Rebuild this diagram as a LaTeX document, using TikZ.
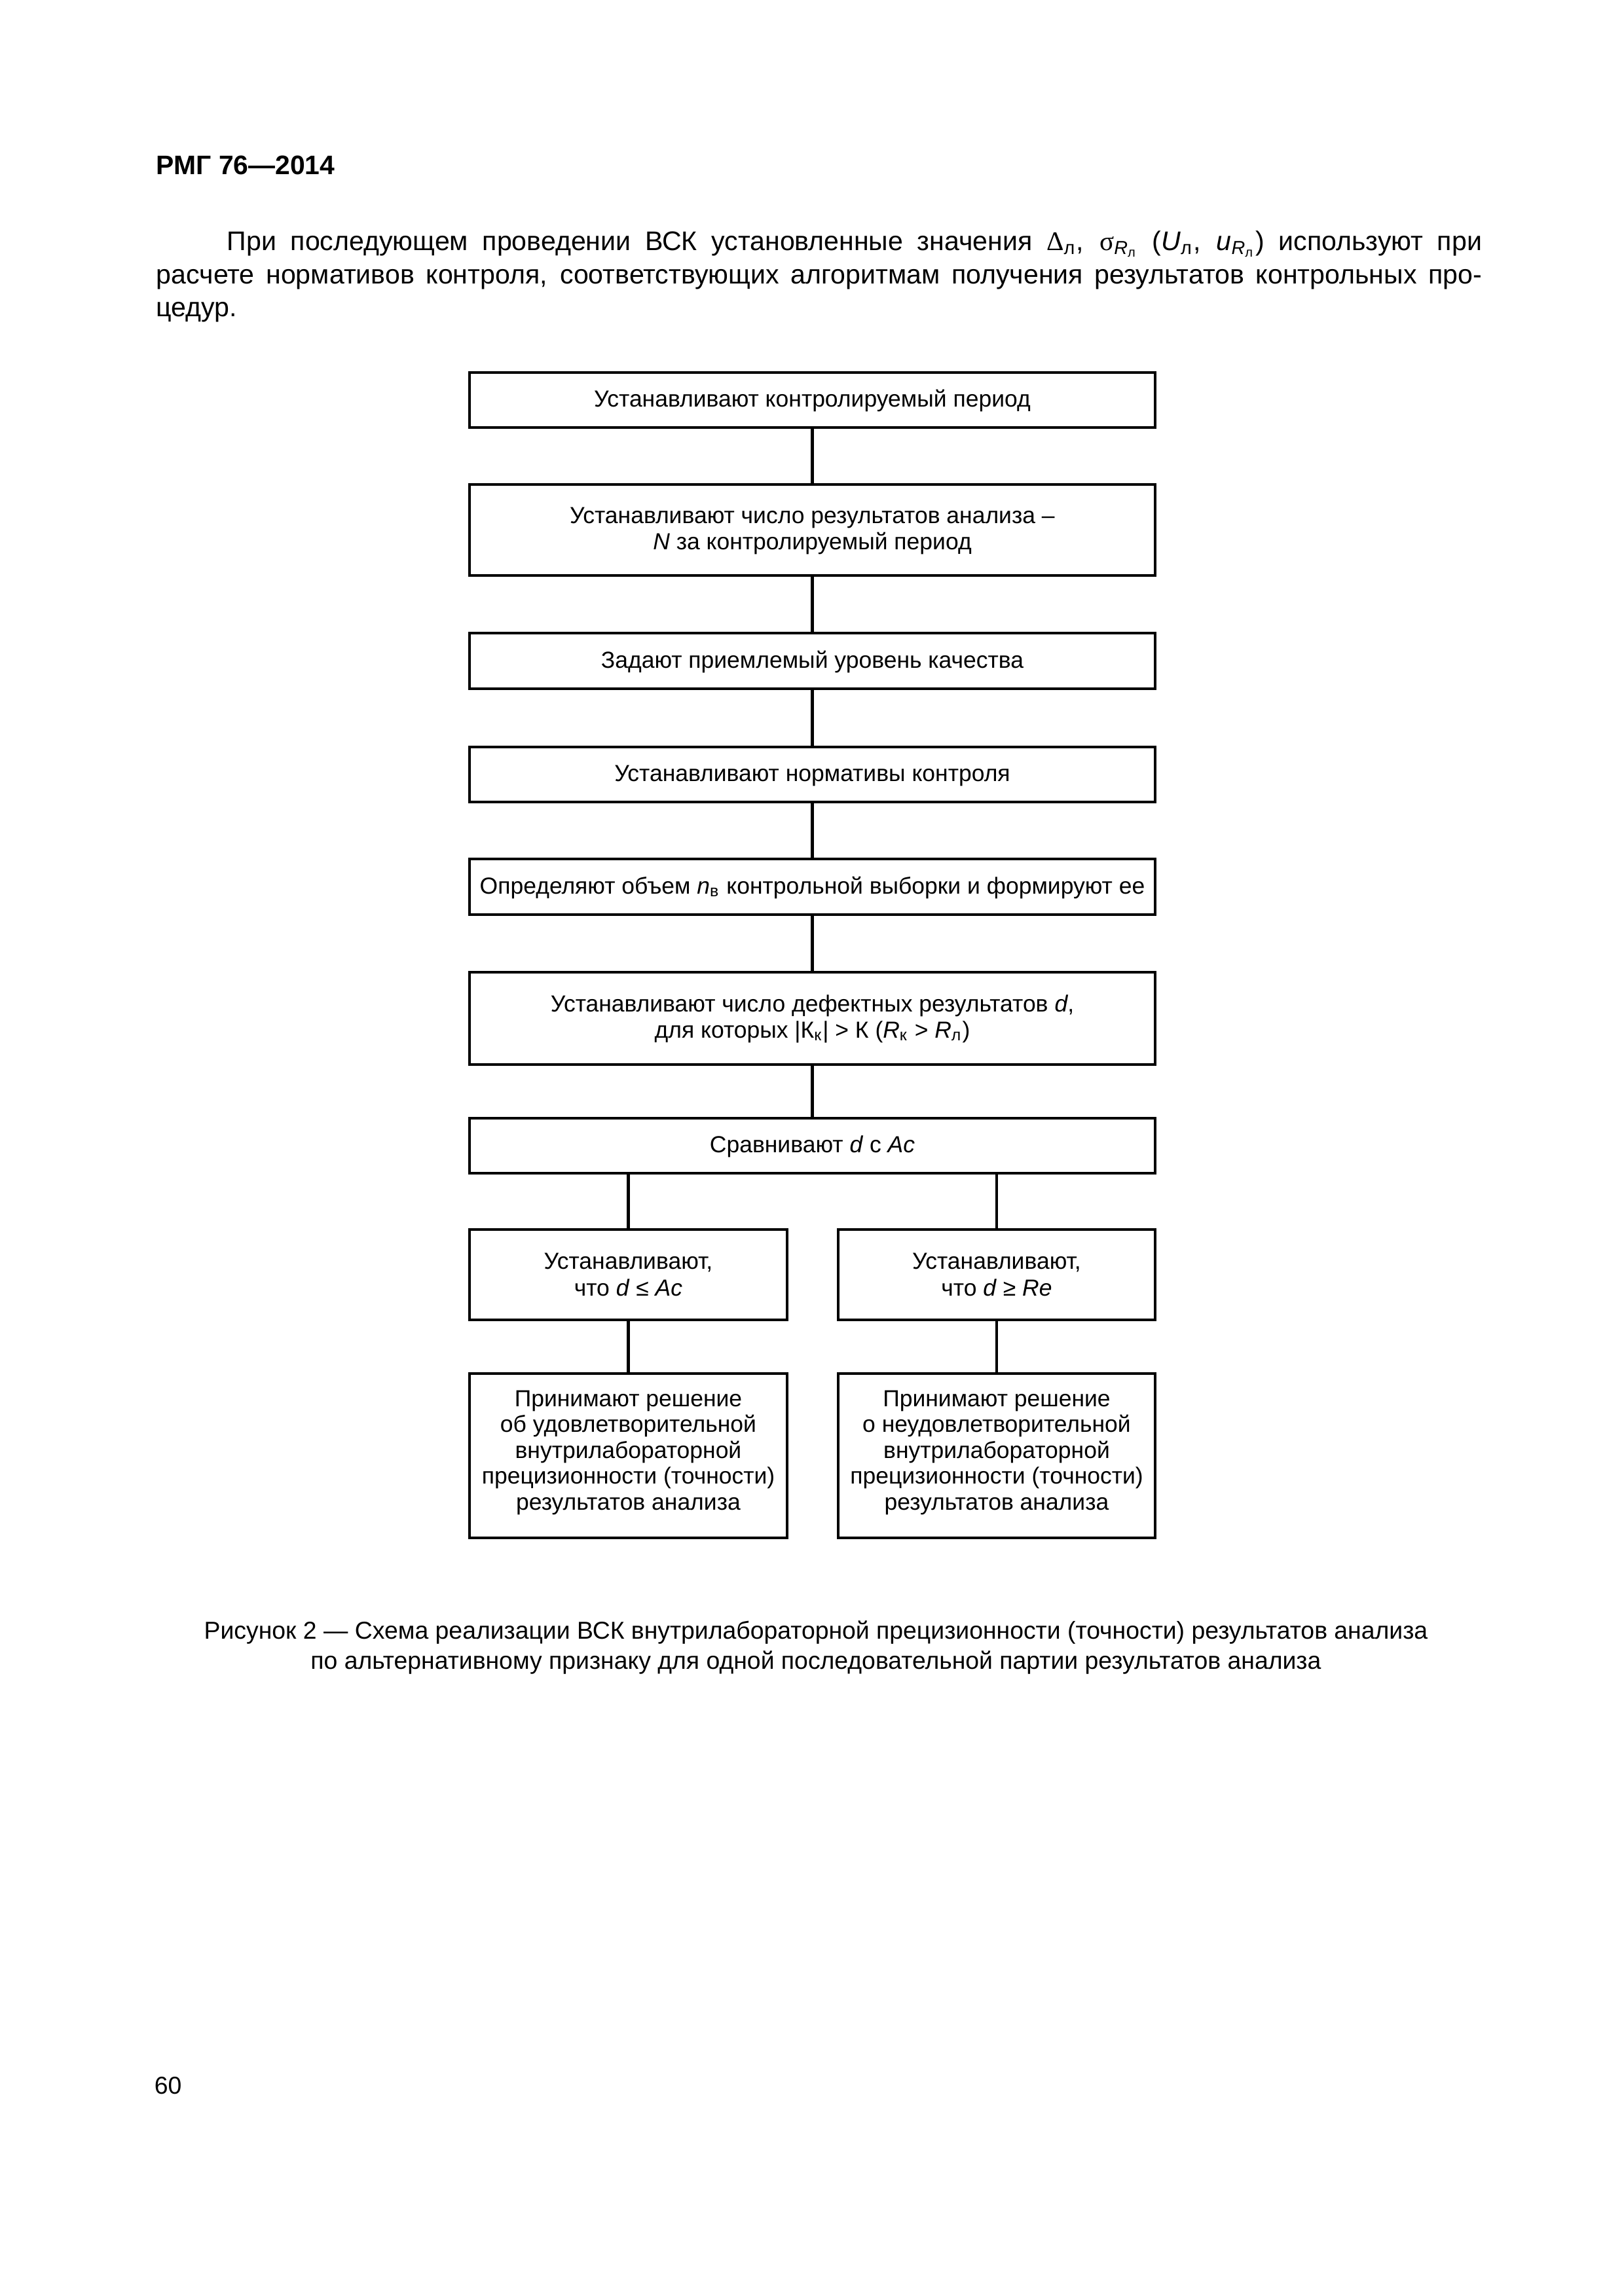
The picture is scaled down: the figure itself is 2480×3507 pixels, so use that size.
\documentclass[tikz,border=0pt]{standalone}
\usepackage{fontspec}
\setmainfont{Liberation Sans}
\newfontfamily\grkfont{Liberation Serif}
\usetikzlibrary{fit}
\newcommand\bxfont{\fontsize{8.55}{9.52}\selectfont}
\newcommand\txfont{\fontsize{9.9}{12}\selectfont}
\newcommand\cpfont{\fontsize{9.0}{12}\selectfont}
\newcommand\hdfont{\fontsize{9.85}{12}\selectfont\bfseries}
\begin{document}
\begin{tikzpicture}[x=0.084677mm, y=-0.084677mm,
  box/.style={draw, line width=1.1pt, inner sep=0pt},
  bt/.style={inner sep=0pt, anchor=base, font=\bxfont},
  conn/.style={line width=1.1pt},
  txt/.style={inner sep=0pt, font=\txfont},
  captxt/.style={inner sep=0pt, font=\cpfont}]
\useasboundingbox (0,0) rectangle (2480,3507);

% header and paragraph
\node[anchor=base west, inner sep=0pt, font=\hdfont] (hdr) at (238,266) {РМГ 76—2014};
\node[txt, anchor=base west] (p1) at (346,382.5) {\makebox[162.24mm][s]{При последующем проведении ВСК установленные значения {\grkfont Δ}\textsubscript{л}, {\grkfont σ}\textsubscript{\textit{R}\textsubscript{л}} (\textit{U}\textsubscript{л}, \textit{u}\textsubscript{\textit{R}\textsubscript{л}}) используют при}};
\node[txt, anchor=base west] (p2) at (238,433) {\makebox[171.39mm][s]{расчете нормативов контроля, соответствующих алгоритмам получения результатов контрольных про-}};
\node[txt, anchor=base west] (p3) at (238,483) {цедур.};

% boxes
\node[box, fit={(717,569) (1764,653)}] (b1) {};
\node[box, fit={(717,740) (1764,879)}] (b2) {};
\node[box, fit={(717,967) (1764,1052)}] (b3) {};
\node[box, fit={(717,1141) (1764,1225)}] (b4) {};
\node[box, fit={(717,1312) (1764,1397)}] (b5) {};
\node[box, fit={(717,1485) (1764,1626)}] (b6) {};
\node[box, fit={(717,1708) (1764,1792)}] (b7) {};
\node[box, fit={(717,1878) (1202,2016)}] (b8l) {};
\node[box, fit={(1280,1878) (1764,2016)}] (b8r) {};
\node[box, fit={(717,2098) (1202,2349)}] (b9l) {};
\node[box, fit={(1280,2098) (1764,2349)}] (b9r) {};

% box texts (one node per printed line, placed on its baseline)
\node[bt] (t1) at (1240.5,621) {Устанавливают контролируемый период};
\node[bt] (t2a) at (1240.5,799) {Устанавливают число результатов анализа –};
\node[bt] (t2b) at (1240.5,839) {\textit{N} за контролируемый период};
\node[bt] (t3) at (1240.5,1020) {Задают приемлемый уровень качества};
\node[bt] (t4) at (1240.5,1193) {Устанавливают нормативы контроля};
\node[bt] (t5) at (1240.5,1365) {Определяют объем \textit{n}\textsubscript{в} контрольной выборки и формируют ее};
\node[bt] (t6a) at (1240.5,1545) {Устанавливают число дефектных результатов \textit{d},};
\node[bt] (t6b) at (1240.5,1585) {для которых |К\textsubscript{к}| > К (\textit{R}\textsubscript{к} > \textit{R}\textsubscript{л})};
\node[bt] (t7) at (1240.5,1760) {Сравнивают \textit{d} с \textit{Ac}};
\node[bt] (t8la) at (959.5,1938) {Устанавливают,};
\node[bt] (t8lb) at (959.5,1979) {что \textit{d} ≤ \textit{Ac}};
\node[bt] (t8ra) at (1522,1938) {Устанавливают,};
\node[bt] (t8rb) at (1522,1979) {что \textit{d} ≥ \textit{Re}};
\node[bt] (t9la) at (959.5,2148) {Принимают решение};
\node[bt] (t9lb) at (959.5,2187.5) {об удовлетворительной};
\node[bt] (t9lc) at (959.5,2227) {внутрилабораторной};
\node[bt] (t9ld) at (959.5,2266.5) {прецизионности (точности)};
\node[bt] (t9le) at (959.5,2306) {результатов анализа};
\node[bt] (t9ra) at (1522,2148) {Принимают решение};
\node[bt] (t9rb) at (1522,2187.5) {о неудовлетворительной};
\node[bt] (t9rc) at (1522,2227) {внутрилабораторной};
\node[bt] (t9rd) at (1522,2266.5) {прецизионности (точности)};
\node[bt] (t9re) at (1522,2306) {результатов анализа};

% connectors
\draw[conn] (b1.south) -- (b2.north);
\draw[conn] (b2.south) -- (b3.north);
\draw[conn] (b3.south) -- (b4.north);
\draw[conn] (b4.south) -- (b5.north);
\draw[conn] (b5.south) -- (b6.north);
\draw[conn] (b6.south) -- (b7.north);
\draw[conn] (b7.south -| b8l.north) -- (b8l.north);
\draw[conn] (b7.south -| b8r.north) -- (b8r.north);
\draw[conn] (b8l.south) -- (b9l.north);
\draw[conn] (b8r.south) -- (b9r.north);

% caption and page number
\node[captxt, anchor=base] (cap1) at (1246,2503) {Рисунок 2 — Схема реализации ВСК внутрилабораторной прецизионности (точности) результатов анализа};
\node[captxt, anchor=base] (cap2) at (1246,2549) {по альтернативному признаку для одной последовательной партии результатов анализа};
\node[captxt, anchor=base west] (pg) at (235,3198) {60};
\end{tikzpicture}
\end{document}
